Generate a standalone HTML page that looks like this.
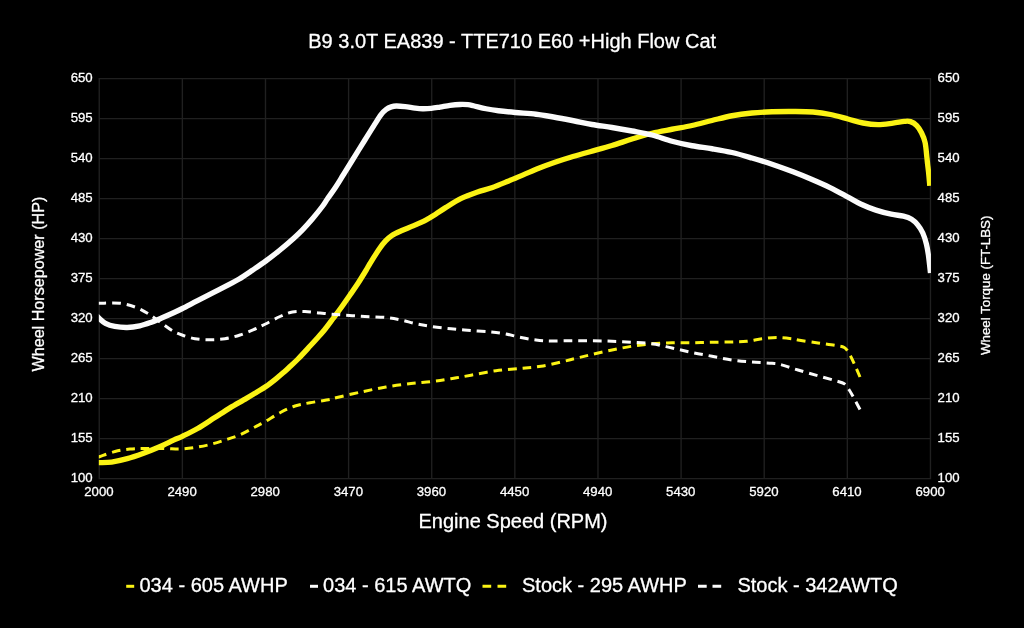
<!DOCTYPE html>
<html lang="en"><head><meta charset="utf-8"><title>B9 3.0T EA839 - TTE710 E60 +High Flow Cat</title>
<style>html,body{margin:0;padding:0;background:#000;overflow:hidden}svg{display:block}</style></head>
<body>
<svg width="1024" height="628" viewBox="0 0 1024 628">
<rect width="1024" height="628" fill="#000"/>
<path d="M99.24 78.10V479.17M182.36 78.10V479.17M265.48 78.10V479.17M348.60 78.10V479.17M431.72 78.10V479.17M514.85 78.10V479.17M597.97 78.10V479.17M681.09 78.10V479.17M764.21 78.10V479.17M847.33 78.10V479.17M930.45 78.10V479.17M98.74 78.60H930.95M98.74 118.61H930.95M98.74 158.61H930.95M98.74 198.62H930.95M98.74 238.63H930.95M98.74 278.63H930.95M98.74 318.64H930.95M98.74 358.65H930.95M98.74 398.66H930.95M98.74 438.66H930.95M98.74 478.67H930.95" stroke="#202020" stroke-width="1.35" fill="none"/>
<g font-family="'Liberation Sans', Arial, Helvetica, sans-serif" fill="#fff" stroke="#fff" stroke-width="0.3" stroke-linejoin="round">
<text x="512.2" y="47.6" font-size="20" text-anchor="middle">B9 3.0T EA839 - TTE710 E60 +High Flow Cat</text>
<g font-size="13.2" stroke-width="0.3">
<text x="92.7" y="82.05" text-anchor="end">650</text>
<text x="937.6" y="82.05">650</text>
<text x="92.7" y="122.06" text-anchor="end">595</text>
<text x="937.6" y="122.06">595</text>
<text x="92.7" y="162.06" text-anchor="end">540</text>
<text x="937.6" y="162.06">540</text>
<text x="92.7" y="202.07" text-anchor="end">485</text>
<text x="937.6" y="202.07">485</text>
<text x="92.7" y="242.08" text-anchor="end">430</text>
<text x="937.6" y="242.08">430</text>
<text x="92.7" y="282.08" text-anchor="end">375</text>
<text x="937.6" y="282.08">375</text>
<text x="92.7" y="322.09" text-anchor="end">320</text>
<text x="937.6" y="322.09">320</text>
<text x="92.7" y="362.10" text-anchor="end">265</text>
<text x="937.6" y="362.10">265</text>
<text x="92.7" y="402.11" text-anchor="end">210</text>
<text x="937.6" y="402.11">210</text>
<text x="92.7" y="442.11" text-anchor="end">155</text>
<text x="937.6" y="442.11">155</text>
<text x="92.7" y="482.12" text-anchor="end">100</text>
<text x="937.6" y="482.12">100</text>
<text x="98.94" y="496.1" text-anchor="middle">2000</text>
<text x="182.06" y="496.1" text-anchor="middle">2490</text>
<text x="265.18" y="496.1" text-anchor="middle">2980</text>
<text x="348.30" y="496.1" text-anchor="middle">3470</text>
<text x="431.42" y="496.1" text-anchor="middle">3960</text>
<text x="514.55" y="496.1" text-anchor="middle">4450</text>
<text x="597.67" y="496.1" text-anchor="middle">4940</text>
<text x="680.79" y="496.1" text-anchor="middle">5430</text>
<text x="763.91" y="496.1" text-anchor="middle">5920</text>
<text x="847.03" y="496.1" text-anchor="middle">6410</text>
<text x="930.15" y="496.1" text-anchor="middle">6900</text>
</g>
<text x="513" y="528.3" font-size="20" text-anchor="middle">Engine Speed (RPM)</text>
<text transform="translate(43.7 284.1) rotate(-90)" font-size="16.15" text-anchor="middle">Wheel Horsepower (HP)</text>
<text transform="translate(990 285.3) rotate(-90)" font-size="13.3" text-anchor="middle">Wheel Torque (FT-LBS)</text>
<g font-size="20">
<text x="139.5" y="591.9">034 - 605 AWHP</text>
<text x="323.1" y="591.9">034 - 615 AWTQ</text>
<text x="522" y="591.9">Stock - 295 AWHP</text>
<text x="737.4" y="591.9">Stock - 342AWTQ</text>
</g>
</g>
<path d="M126.2 586.3h8" stroke="#fbf314" stroke-width="3" fill="none"/>
<path d="M310 586.3h8" stroke="#fbfbfb" stroke-width="3" fill="none"/>
<path d="M482.5 586.3h8.7M497.5 586.3h8.7" stroke="#fbf314" stroke-width="3" fill="none"/>
<path d="M698 586.3h8.7M712.5 586.3h8.7" stroke="#fbfbfb" stroke-width="3" fill="none"/>
<clipPath id="plot"><rect x="98.84" y="78.60" width="832.11" height="400.07"/></clipPath>
<g fill="none" stroke-linejoin="round" clip-path="url(#plot)">
<path d="M96.50 462.80 C96.98 462.77 96.88 462.72 99.40 462.60 C101.92 462.48 106.96 462.75 111.60 462.10 C116.24 461.45 122.03 460.13 127.25 458.70 C132.47 457.27 137.69 455.40 142.90 453.50 C148.11 451.60 153.30 449.57 158.50 447.30 C163.70 445.03 170.12 441.73 174.10 439.90 C178.08 438.07 178.48 438.20 182.40 436.30 C186.32 434.40 192.47 431.45 197.60 428.50 C202.73 425.55 209.47 420.97 213.20 418.60 C216.93 416.23 217.20 416.08 220.00 414.30 C222.80 412.52 225.60 410.55 230.00 407.90 C234.40 405.25 241.90 401.05 246.40 398.40 C250.90 395.75 253.82 393.93 257.00 392.00 C260.18 390.07 262.33 389.00 265.50 386.80 C268.67 384.60 272.80 381.37 276.00 378.80 C279.20 376.23 282.53 373.28 284.70 371.40 C286.87 369.52 286.78 369.57 289.00 367.50 C291.22 365.43 294.45 362.62 298.00 359.00 C301.55 355.38 307.22 349.13 310.30 345.80 C313.38 342.47 314.15 341.63 316.50 339.00 C318.85 336.37 321.63 333.42 324.40 330.00 C327.17 326.58 330.29 322.25 333.10 318.50 C335.91 314.75 338.43 311.42 341.25 307.50 C344.07 303.58 347.12 299.17 350.00 295.00 C352.88 290.83 355.79 286.67 358.50 282.50 C361.21 278.33 364.33 273.17 366.25 270.00 C368.17 266.83 367.81 267.05 370.00 263.50 C372.19 259.95 376.80 252.47 379.40 248.70 C382.00 244.93 383.52 243.12 385.60 240.90 C387.68 238.68 389.29 237.09 391.90 235.40 C394.51 233.71 397.61 232.38 401.25 230.75 C404.89 229.12 409.58 227.42 413.75 225.60 C417.92 223.78 422.61 221.70 426.25 219.80 C429.89 217.90 432.38 216.23 435.60 214.20 C438.83 212.17 441.33 210.23 445.60 207.60 C449.88 204.97 456.03 200.97 461.25 198.40 C466.47 195.83 471.69 194.03 476.90 192.20 C482.11 190.37 487.30 189.23 492.50 187.40 C497.70 185.57 502.89 183.33 508.10 181.20 C513.31 179.07 518.53 176.80 523.75 174.60 C528.97 172.40 534.19 170.07 539.40 168.00 C544.61 165.93 549.80 164.00 555.00 162.20 C560.20 160.40 564.77 158.95 570.60 157.20 C576.43 155.45 583.10 153.65 590.00 151.70 C596.90 149.75 605.00 147.62 612.00 145.50 C619.00 143.38 625.33 141.04 632.00 139.00 C638.67 136.96 645.33 134.88 652.00 133.25 C658.67 131.62 665.33 130.54 672.00 129.25 C678.67 127.96 685.33 126.96 692.00 125.50 C698.67 124.04 705.33 122.12 712.00 120.50 C718.67 118.88 725.33 117.00 732.00 115.75 C738.67 114.50 745.33 113.67 752.00 113.00 C758.67 112.33 765.17 112.00 772.00 111.75 C778.83 111.50 786.17 111.46 793.00 111.50 C799.83 111.54 806.75 111.50 813.00 112.00 C819.25 112.50 824.67 113.33 830.50 114.50 C836.33 115.67 842.58 117.58 848.00 119.00 C853.42 120.42 858.00 122.07 863.00 123.00 C868.00 123.93 873.00 124.58 878.00 124.60 C883.00 124.62 888.62 123.63 893.00 123.10 C897.38 122.57 901.33 121.65 904.25 121.40 C907.17 121.15 908.42 120.90 910.50 121.60 C912.58 122.30 914.92 123.73 916.75 125.60 C918.58 127.47 920.11 129.98 921.50 132.80 C922.89 135.62 924.20 138.38 925.10 142.50 C926.00 146.62 926.48 153.92 926.90 157.50 C927.32 161.08 927.32 161.50 927.60 164.00 C927.88 166.50 928.23 168.88 928.60 172.50 C928.97 176.12 929.60 183.54 929.80 185.75" stroke="#fbf314" stroke-width="5.35"/>
<path d="M96.50 315.50 C96.98 316.02 97.92 317.30 99.40 318.60 C100.88 319.90 102.84 322.00 105.40 323.30 C107.96 324.60 111.11 325.70 114.75 326.40 C118.39 327.10 123.08 327.58 127.25 327.50 C131.42 327.42 135.84 326.73 139.75 325.90 C143.66 325.07 147.06 323.82 150.70 322.50 C154.34 321.18 157.70 319.67 161.60 318.00 C165.50 316.33 170.63 314.08 174.10 312.50 C177.57 310.92 178.48 310.48 182.40 308.50 C186.32 306.52 192.47 303.23 197.60 300.60 C202.73 297.97 208.00 295.37 213.20 292.70 C218.40 290.03 224.47 286.88 228.80 284.60 C233.13 282.32 235.25 281.40 239.20 279.00 C243.15 276.60 248.07 273.20 252.50 270.20 C256.93 267.20 261.27 264.33 265.80 261.00 C270.33 257.67 275.08 253.97 279.70 250.20 C284.32 246.43 289.70 241.80 293.50 238.40 C297.30 235.00 299.33 233.08 302.50 229.80 C305.67 226.53 309.17 222.68 312.50 218.75 C315.83 214.82 320.00 209.58 322.50 206.25 C325.00 202.92 325.35 201.88 327.50 198.75 C329.65 195.62 332.78 191.46 335.40 187.50 C338.02 183.54 340.35 179.58 343.20 175.00 C346.05 170.42 348.88 165.83 352.50 160.00 C356.12 154.17 361.33 145.73 364.90 140.00 C368.47 134.27 371.17 129.87 373.90 125.60 C376.62 121.33 379.19 117.10 381.25 114.40 C383.31 111.70 384.58 110.65 386.25 109.40 C387.92 108.15 389.58 107.47 391.25 106.90 C392.92 106.33 393.96 106.05 396.25 106.00 C398.54 105.95 401.88 106.25 405.00 106.60 C408.12 106.95 412.08 107.74 415.00 108.10 C417.92 108.46 419.79 108.70 422.50 108.75 C425.21 108.80 428.33 108.68 431.25 108.40 C434.17 108.12 436.88 107.60 440.00 107.10 C443.12 106.60 446.67 105.83 450.00 105.40 C453.33 104.97 457.00 104.62 460.00 104.50 C463.00 104.38 465.75 104.49 468.00 104.70 C470.25 104.91 470.50 105.08 473.50 105.75 C476.50 106.42 481.83 107.92 486.00 108.75 C490.17 109.58 493.62 110.12 498.50 110.75 C503.38 111.38 509.00 111.92 515.25 112.50 C521.50 113.08 529.62 113.50 536.00 114.25 C542.38 115.00 547.25 115.92 553.50 117.00 C559.75 118.08 567.08 119.50 573.50 120.75 C579.92 122.00 585.58 123.38 592.00 124.50 C598.42 125.62 605.33 126.42 612.00 127.50 C618.67 128.58 625.33 129.75 632.00 131.00 C638.67 132.25 645.33 133.29 652.00 135.00 C658.67 136.71 665.33 139.46 672.00 141.25 C678.67 143.04 685.33 144.50 692.00 145.75 C698.67 147.00 705.33 147.62 712.00 148.75 C718.67 149.88 725.33 150.96 732.00 152.50 C738.67 154.04 745.33 156.05 752.00 158.00 C758.67 159.95 765.17 161.90 772.00 164.20 C778.83 166.50 786.33 169.25 793.00 171.80 C799.67 174.35 805.83 176.87 812.00 179.50 C818.17 182.13 824.08 184.72 830.00 187.60 C835.92 190.48 842.40 194.07 847.50 196.80 C852.60 199.53 855.87 201.78 860.60 204.00 C865.33 206.22 870.80 208.40 875.90 210.10 C881.00 211.80 886.62 213.18 891.20 214.20 C895.78 215.22 900.00 215.35 903.40 216.20 C906.80 217.05 909.22 217.85 911.60 219.30 C913.98 220.75 915.83 222.62 917.70 224.90 C919.57 227.18 921.35 229.82 922.80 233.00 C924.25 236.18 925.47 240.33 926.40 244.00 C927.33 247.67 927.72 250.17 928.40 255.00 C929.08 259.83 930.15 270.00 930.50 273.00" stroke="#fbfbfb" stroke-width="5.35"/>
<path d="M98.80 456.90 C99.00 456.83 97.30 457.40 100.00 456.50 C102.70 455.60 110.00 452.75 115.00 451.50 C120.00 450.25 125.00 449.50 130.00 449.00 C135.00 448.50 139.17 448.58 145.00 448.50 C150.83 448.42 159.17 448.42 165.00 448.50 C170.83 448.58 175.00 449.17 180.00 449.00 C185.00 448.83 190.00 448.25 195.00 447.50 C200.00 446.75 205.00 445.75 210.00 444.50 C215.00 443.25 220.00 441.62 225.00 440.00 C230.00 438.38 235.00 436.92 240.00 434.75 C245.00 432.58 250.75 429.21 255.00 427.00 C259.25 424.79 261.33 423.88 265.50 421.50 C269.67 419.12 275.08 415.33 280.00 412.75 C284.92 410.17 290.00 407.67 295.00 406.00 C300.00 404.33 304.17 403.83 310.00 402.75 C315.83 401.67 325.67 400.33 330.00 399.50 C334.33 398.67 330.83 399.00 336.00 397.75 C341.17 396.50 352.67 393.79 361.00 392.00 C369.33 390.21 377.67 388.42 386.00 387.00 C394.33 385.58 403.42 384.42 411.00 383.50 C418.58 382.58 424.83 382.30 431.50 381.50 C438.17 380.70 444.42 379.75 451.00 378.70 C457.58 377.65 463.50 376.53 471.00 375.20 C478.50 373.87 487.67 371.85 496.00 370.70 C504.33 369.55 513.50 369.04 521.00 368.30 C528.50 367.56 534.33 367.30 541.00 366.25 C547.67 365.20 555.17 363.33 561.00 362.00 C566.83 360.67 570.83 359.50 576.00 358.25 C581.17 357.00 586.00 355.88 592.00 354.50 C598.00 353.12 605.33 351.38 612.00 350.00 C618.67 348.62 625.33 347.29 632.00 346.25 C638.67 345.21 645.33 344.33 652.00 343.75 C658.67 343.17 665.33 342.92 672.00 342.75 C678.67 342.58 685.33 342.83 692.00 342.75 C698.67 342.67 705.33 342.38 712.00 342.25 C718.67 342.12 726.17 342.17 732.00 342.00 C737.83 341.83 742.00 341.79 747.00 341.25 C752.00 340.71 757.00 339.38 762.00 338.75 C767.00 338.12 772.00 337.50 777.00 337.50 C782.00 337.50 788.50 338.33 792.00 338.75 C795.50 339.17 793.67 339.29 798.00 340.00 C802.33 340.71 811.75 342.08 818.00 343.00 C824.25 343.92 831.12 344.75 835.50 345.50 C839.88 346.25 841.96 346.12 844.25 347.50 C846.54 348.88 847.58 351.04 849.25 353.75 C850.92 356.46 852.46 359.88 854.25 363.75 C856.04 367.62 859.04 374.79 860.00 377.00" stroke="#fbf314" stroke-width="3" stroke-dasharray="8.7 5.9"/>
<path d="M98.80 303.25 C99.00 303.25 96.47 303.25 100.00 303.25 C103.53 303.25 114.17 302.62 120.00 303.25 C125.83 303.88 130.42 305.33 135.00 307.00 C139.58 308.67 143.33 310.75 147.50 313.25 C151.67 315.75 155.83 319.08 160.00 322.00 C164.17 324.92 168.83 328.58 172.50 330.75 C176.17 332.92 178.25 333.67 182.00 335.00 C185.75 336.33 190.33 337.96 195.00 338.75 C199.67 339.54 205.00 339.75 210.00 339.75 C215.00 339.75 220.00 339.54 225.00 338.75 C230.00 337.96 235.00 336.62 240.00 335.00 C245.00 333.38 250.75 330.83 255.00 329.00 C259.25 327.17 261.33 326.08 265.50 324.00 C269.67 321.92 275.50 318.50 280.00 316.50 C284.50 314.50 288.33 312.83 292.50 312.00 C296.67 311.17 300.42 311.33 305.00 311.50 C309.58 311.67 314.83 312.50 320.00 313.00 C325.17 313.50 329.17 313.96 336.00 314.50 C342.83 315.04 352.67 315.75 361.00 316.25 C369.33 316.75 379.33 316.88 386.00 317.50 C392.67 318.12 396.00 318.96 401.00 320.00 C406.00 321.04 410.92 322.67 416.00 323.75 C421.08 324.83 425.67 325.67 431.50 326.50 C437.33 327.33 444.42 328.08 451.00 328.75 C457.58 329.42 464.33 329.96 471.00 330.50 C477.67 331.04 485.17 331.42 491.00 332.00 C496.83 332.58 501.00 333.08 506.00 334.00 C511.00 334.92 516.00 336.50 521.00 337.50 C526.00 338.50 531.00 339.42 536.00 340.00 C541.00 340.58 545.17 340.88 551.00 341.00 C556.83 341.12 564.17 340.79 571.00 340.75 C577.83 340.71 585.17 340.67 592.00 340.75 C598.83 340.83 605.33 341.00 612.00 341.25 C618.67 341.50 625.33 341.83 632.00 342.25 C638.67 342.67 645.33 342.79 652.00 343.75 C658.67 344.71 665.33 346.54 672.00 348.00 C678.67 349.46 685.33 351.12 692.00 352.50 C698.67 353.88 705.33 355.00 712.00 356.25 C718.67 357.50 725.33 359.04 732.00 360.00 C738.67 360.96 745.33 361.46 752.00 362.00 C758.67 362.54 767.25 362.83 772.00 363.25 C776.75 363.67 776.17 363.38 780.50 364.50 C784.83 365.62 791.75 368.12 798.00 370.00 C804.25 371.88 811.75 373.96 818.00 375.75 C824.25 377.54 831.12 379.42 835.50 380.75 C839.88 382.08 841.96 382.21 844.25 383.75 C846.54 385.29 847.58 387.50 849.25 390.00 C850.92 392.50 852.46 395.50 854.25 398.75 C856.04 402.00 859.04 407.71 860.00 409.50" stroke="#fbfbfb" stroke-width="3" stroke-dasharray="8.7 5.93"/>
</g>
</svg>
</body></html>
